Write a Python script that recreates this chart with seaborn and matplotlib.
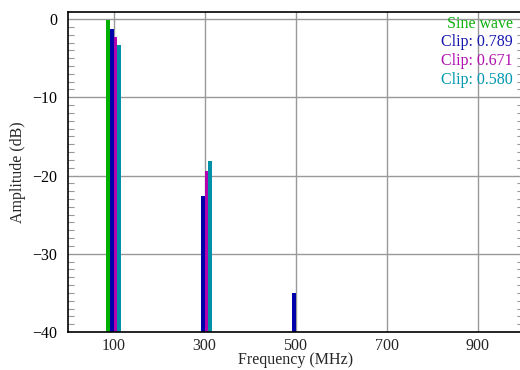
import numpy as np
import pandas as pd
import matplotlib
matplotlib.use("Agg")
import matplotlib.pyplot as plt
import seaborn as sns
from matplotlib.ticker import MultipleLocator

# ---- data ----
freqs = [100, 300, 500]
series = ["Sine wave", "Clip: 0.789", "Clip: 0.671", "Clip: 0.580"]
sine_db = [-0.1, np.nan, np.nan]
clip789_db = [-1.3, -22.6, -35.0]
clip671_db = [-2.3, -19.4, np.nan]
clip580_db = [-3.3, -18.2, np.nan]
colors = ["#00b000", "#0000aa", "#b000b0", "#0090a8"]
text_colors = ["#10b010", "#1818b0", "#b010b0", "#0098b0"]
xticks = [100, 300, 500, 700, 900]
yticks = [-40, -30, -20, -10, 0]
ytick_labels = ["\u221240", "\u221230", "\u221220", "\u221210", "0"]
FLOOR = -40

sns.set_theme(style="white")
plt.rcParams["font.family"] = ["Liberation Serif", "DejaVu Serif"]

rows = []
for name, vals in zip(series, [sine_db, clip789_db, clip671_db, clip580_db]):
    for f, v in zip(freqs, vals):
        rows.append({"freq": f, "series": name, "db": v})
df = pd.DataFrame(rows)
df["height"] = df["db"] - FLOOR

fig = plt.figure(figsize=(5.2, 3.7), dpi=100)
ax = fig.add_axes([68 / 520, 1 - 332 / 370, 455 / 520, 320 / 370])

sns.barplot(data=df, x="freq", y="height", hue="series", hue_order=series,
            palette=colors, native_scale=True, width=0.16, dodge=True,
            bottom=FLOOR, ax=ax, legend=False, saturation=1,
            linewidth=0, err_kws={"linewidth": 0})

ax.set_xlim(0, 1000)
ax.set_ylim(-40, 0.9)
ax.set_xticks(xticks)
ax.set_yticks(yticks)
ax.yaxis.set_minor_locator(MultipleLocator(1))
ax.set_yticklabels(ytick_labels)
ax.grid(True, which="major", color="#999999", linewidth=1.0)
ax.set_axisbelow(True)
ax.tick_params(axis="y", which="minor", direction="in", length=4, width=0.8,
               color="#999999", left=True, right=True)
ax.tick_params(axis="y", which="major", direction="in", length=0, labelsize=11.5,
               pad=8, colors="black")
ax.tick_params(axis="x", which="major", direction="in", length=0, labelsize=11.5,
               pad=4)
for s in ["left", "bottom", "top"]:
    ax.spines[s].set_color("black")
    ax.spines[s].set_linewidth(1.2)
ax.spines["right"].set_visible(False)

ax.set_xlabel("Frequency (MHz)", fontsize=11.5, labelpad=-1)
ax.set_ylabel("Amplitude (dB)", fontsize=11.5, labelpad=4)

for i, (name, c) in enumerate(zip(series, text_colors)):
    fig.text(513 / 520, 1 - (24 + i * 18.5) / 370, name, color=c,
             ha="right", va="center", fontsize=11.5)

fig.savefig("out.png", dpi=100)
